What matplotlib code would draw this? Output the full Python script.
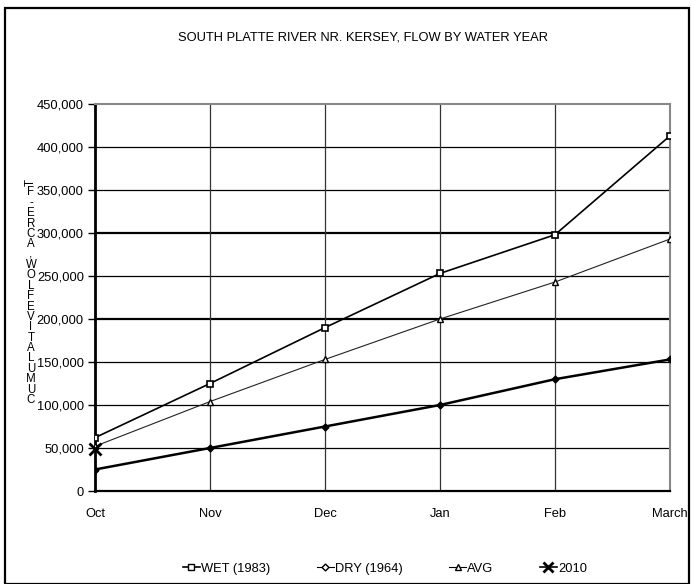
import matplotlib
matplotlib.use("Agg")
import matplotlib.pyplot as plt
from matplotlib.lines import Line2D
from matplotlib.patches import Rectangle
from matplotlib.ticker import FuncFormatter

months = ["Oct", "Nov", "Dec", "Jan", "Feb", "March"]
wet_1983 = [62000, 125000, 190000, 253000, 298000, 413000]
dry_1964 = [25000, 50000, 75000, 100000, 130000, 153000]
avg = [52000, 104000, 153000, 200000, 243000, 293000]
y2010 = [49000]
y_ticks = list(range(0, 450001, 50000))
title = "SOUTH PLATTE RIVER NR. KERSEY, FLOW BY WATER YEAR"
ylabel = "CUMULATIVE FLOW, ACRE-FT"
legend_labels = ["WET (1983)", "DRY (1964)", "AVG", "2010"]

FS = 9.3
plt.rcParams["font.family"] = ["Liberation Sans", "DejaVu Sans"]

W, H = 691, 584
fig = plt.figure(figsize=(W / 100, H / 100), dpi=100)
fig.patch.set_facecolor("white")

# outer frame
fig.add_artist(Rectangle((5 / W, 0), (W - 7) / W, 1 - 8 / H, transform=fig.transFigure,
                         fill=False, edgecolor="black", linewidth=1.6))

left, right, top, bottom = 95, 670, 104, 491
ax = fig.add_axes([left / W, 1 - bottom / H, (right - left) / W, (bottom - top) / H])

x = list(range(len(months)))
ax.set_xlim(0, len(months) - 1)
ax.set_ylim(0, 450000)

# grid
for yv in y_ticks[1:-1]:
    lw = 1.6 if yv in (200000, 300000) else 0.9
    ax.axhline(yv, color="black", lw=lw, zorder=1)
for xv in x[1:-1]:
    ax.axvline(xv, color="#333333", lw=0.9, zorder=1)

ax.plot(x, avg, color="#222222", lw=0.8, marker="^", ms=5, mfc="white", mec="black", mew=1.0, zorder=3)
ax.plot(x, wet_1983, color="black", lw=1.2, marker="s", ms=5, mfc="white", mec="black", mew=1.2, zorder=4)
ax.plot(x, dry_1964, color="black", lw=1.8, marker="D", ms=3.5, mfc="black", mec="black", zorder=3)
ax.plot(x[:len(y2010)], y2010, color="black", lw=1.5, marker="x", ms=8, mew=2.0, zorder=5, clip_on=False)

ax.spines["left"].set_linewidth(2.0)
ax.spines["bottom"].set_linewidth(1.6)
for s in ("top", "right"):
    ax.spines[s].set_color("#888888")
    ax.spines[s].set_linewidth(1.5)

ax.set_yticks(y_ticks)
ax.yaxis.set_major_formatter(FuncFormatter(lambda v, p: f"{int(v):,}"))
ax.set_xticks(x)
ax.set_xticklabels(months)
ax.tick_params(axis="y", length=5, width=1, labelsize=FS, pad=3)
ax.tick_params(axis="x", length=0, labelsize=FS, pad=12)

fig.text(363 / W, 1 - 37 / H, title, ha="center", va="center", fontsize=FS)

# stacked vertical y-label (bottom to top, upright letters, last one turned)
chars = [c for c in ylabel if c != " "]
y_bottom, y_top = 400, 182
n = len(chars)
for i, c in enumerate(chars):
    yy = y_bottom - i * (y_bottom - y_top) / (n - 1)
    rot = 90 if i == n - 1 else 0
    fig.text(31 / W, 1 - yy / H, c, ha="center", va="center", fontsize=8.3, rotation=rot)

handles = [
    Line2D([], [], color="black", lw=1.2, marker="s", ms=5, mfc="white", mec="black"),
    Line2D([], [], color="black", lw=0.8, marker="D", ms=3.5, mfc="white", mec="black"),
    Line2D([], [], color="black", lw=0.8, marker="^", ms=5, mfc="white", mec="black"),
    Line2D([], [], color="black", lw=1.2, marker="x", ms=7, mew=2),
]
fig.legend(handles, legend_labels, loc="center", bbox_to_anchor=(385 / W, 1 - 569 / H), ncol=4,
           frameon=False, fontsize=FS, handlelength=1.3, handletextpad=0.1, columnspacing=3.6)

fig.savefig("out.png", dpi=100, facecolor="white")
